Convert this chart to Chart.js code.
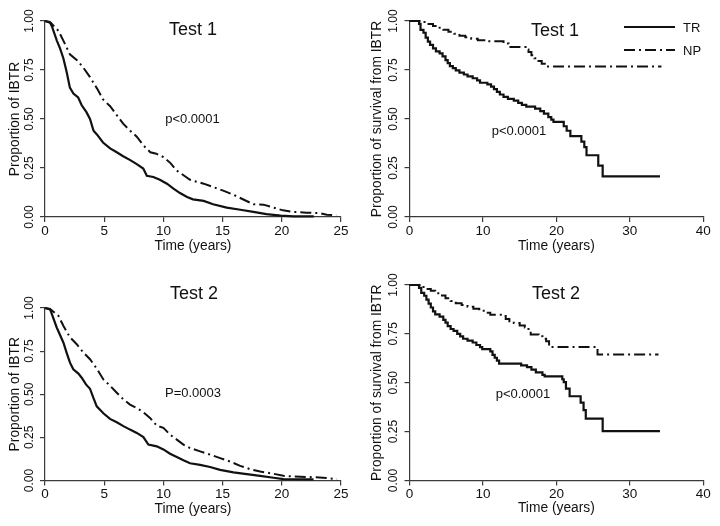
<!DOCTYPE html>
<html><head><meta charset="utf-8">
<script src="https://cdn.jsdelivr.net/npm/chart.js@4/dist/chart.umd.min.js"></script>
<style>
html,body{margin:0;padding:0;background:#fff;}
#wrap{position:relative;width:720px;height:526px;overflow:hidden;background:#fff;}
canvas{position:absolute;}
</style></head><body>
<div id="wrap">
<canvas id="c1" width="360" height="263" style="left:0;top:0"></canvas>
<canvas id="c2" width="360" height="263" style="left:360px;top:0"></canvas>
<canvas id="c3" width="360" height="263" style="left:0;top:263px"></canvas>
<canvas id="c4" width="360" height="263" style="left:360px;top:263px"></canvas>
</div>
<script>
// ---------- data ----------
const seriesLabels = ['TR', 'NP'];
const panelTitles = ['Test 1', 'Test 1', 'Test 2', 'Test 2'];
const pValues = ['p<0.0001', 'p<0.0001', 'P=0.0003', 'p<0.0001'];
const yTitles = ['Proportion of IBTR', 'Proportion of survival from IBTR', 'Proportion of IBTR', 'Proportion of survival from IBTR'];
const xTitle = 'Time (years)';
const xTicksLeft = [0, 5, 10, 15, 20, 25];
const xTicksRight = [0, 10, 20, 30, 40];
const yTicks = [0, 0.25, 0.5, 0.75, 1];

// Panel 1 (top-left): proportion of IBTR
const p1TrTime = [0,0.4,0.6,1.0,1.27,1.55,1.83,2.1,2.4,2.8,3.1,3.5,3.8,4.1,4.4,4.9,5.5,6.06,6.6,7.2,7.75,8.3,8.6,9.15,9.7,10.3,10.85,11.4,12.0,12.5,13.4,14.2,15.35,16.5,17.6,18.7,19.9,21,22.7];
const p1TrVal  = [1,0.995,0.97,0.90,0.86,0.81,0.74,0.66,0.63,0.61,0.57,0.535,0.50,0.44,0.42,0.38,0.35,0.33,0.31,0.29,0.27,0.247,0.21,0.204,0.19,0.17,0.145,0.122,0.102,0.09,0.082,0.065,0.048,0.037,0.026,0.015,0.007,0.003,0.003];
const p1NpTime = [0,0.5,1.13,1.55,2.1,2.7,3.2,3.8,4.4,4.9,5.5,6.06,6.6,7.2,7.75,8.3,8.9,9.4,10,10.6,11.1,11.7,12.25,12.8,13.4,14.2,15.1,15.9,16.8,17.6,18.45,19.3,20.1,21,22.1,23.2,23.8,24.6];
const p1NpVal  = [1,0.99,0.95,0.90,0.83,0.80,0.765,0.714,0.655,0.60,0.565,0.52,0.476,0.44,0.41,0.366,0.33,0.323,0.306,0.275,0.238,0.213,0.19,0.18,0.17,0.153,0.133,0.114,0.088,0.065,0.063,0.048,0.034,0.026,0.022,0.02,0.012,0.008];

// Panel 2 (top-right): survival from IBTR
const p2TrTime = [0,1.3,1.5,1.9,2.2,2.5,2.8,3.2,3.6,4.1,4.5,4.9,5.2,5.5,5.9,6.3,6.8,7.4,7.9,8.6,9.2,9.6,10.6,11.1,11.5,11.9,12.3,12.8,13.4,14.2,14.8,15.3,15.9,17.1,17.8,18.3,18.9,19.3,19.6,21.0,21.4,21.9,23.4,23.8,24.1,25.7,26.3,34.1];
const p2TrVal  = [1,0.985,0.955,0.94,0.915,0.895,0.878,0.86,0.845,0.835,0.82,0.80,0.785,0.77,0.76,0.748,0.737,0.727,0.717,0.708,0.697,0.685,0.677,0.665,0.652,0.638,0.625,0.613,0.603,0.594,0.582,0.572,0.563,0.553,0.54,0.527,0.51,0.497,0.485,0.463,0.44,0.413,0.385,0.357,0.315,0.262,0.207,0.207];
const p2NpTime = [0,1.5,2.4,3.2,3.9,4.6,5.3,6.1,6.8,7.6,8.4,9.3,10.5,12.8,13.5,15.8,16.2,16.6,17.0,17.4,18.0,18.7,34.3];
const p2NpVal  = [1,0.995,0.985,0.975,0.965,0.955,0.945,0.935,0.925,0.917,0.91,0.902,0.897,0.885,0.867,0.855,0.842,0.825,0.81,0.796,0.782,0.768,0.768];

// Panel 3 (bottom-left): proportion of IBTR
const p3TrTime = [0,0.42,0.99,1.55,1.83,2.11,2.39,2.82,3.1,3.46,3.8,4.08,4.37,4.93,5.49,6.06,6.62,7.18,7.75,8.31,8.73,9.44,10.0,10.56,11.13,11.69,12.25,13.1,13.94,14.79,15.92,17.04,18.17,19.3,20.14,22.68];
const p3TrVal  = [1,0.995,0.887,0.80,0.74,0.683,0.645,0.62,0.596,0.557,0.532,0.48,0.43,0.39,0.357,0.338,0.315,0.295,0.276,0.252,0.208,0.198,0.18,0.155,0.136,0.117,0.10,0.091,0.078,0.062,0.047,0.037,0.027,0.016,0.008,0.006];
const p3NpTime = [0,0.5,1.13,1.55,2.11,2.68,3.24,3.8,4.37,4.93,5.49,6.06,6.62,7.18,7.75,8.31,8.87,9.44,10.0,10.56,11.13,11.69,12.25,13.1,13.94,14.79,15.63,16.48,17.32,18.17,19.3,20.14,20.99,22.68,23.8,24.65];
const p3NpVal  = [1,0.99,0.955,0.897,0.83,0.79,0.742,0.703,0.649,0.586,0.55,0.509,0.47,0.44,0.42,0.396,0.363,0.318,0.305,0.266,0.237,0.208,0.188,0.169,0.15,0.13,0.11,0.085,0.066,0.052,0.039,0.027,0.023,0.019,0.014,0.008];

// Panel 4 (bottom-right): survival from IBTR
const p4TrTime = [0,1.3,1.6,2.0,2.3,2.6,2.9,3.2,3.5,4.1,4.6,4.9,5.2,5.6,6.0,6.5,6.9,7.3,7.9,8.6,9.1,9.6,9.9,11.0,11.3,11.6,11.9,12.2,15.2,16.0,16.6,17.2,18.1,18.4,20.8,21.0,21.3,21.8,23.3,23.7,24.0,26.3,34.1];
const p4TrVal  = [1,0.985,0.96,0.945,0.925,0.905,0.885,0.865,0.85,0.838,0.822,0.808,0.79,0.775,0.765,0.75,0.737,0.725,0.715,0.706,0.693,0.682,0.672,0.66,0.643,0.628,0.613,0.598,0.589,0.58,0.567,0.553,0.54,0.533,0.518,0.503,0.47,0.431,0.398,0.36,0.317,0.253,0.253];
const p4NpTime = [0,1.7,2.3,2.9,3.5,4.2,4.9,5.6,6.3,7.1,7.9,8.7,9.5,10.3,11.0,12.6,13.1,13.6,14.2,15.0,15.7,16.2,16.5,17.6,18.1,18.6,19.0,19.3,25.6,33.9];
const p4NpVal  = [1,0.99,0.98,0.97,0.958,0.946,0.932,0.918,0.907,0.898,0.889,0.878,0.868,0.858,0.848,0.842,0.826,0.815,0.805,0.793,0.782,0.762,0.747,0.738,0.725,0.712,0.696,0.683,0.645,0.645];

// ---------- drawing ----------
const FONT = '"Liberation Sans", Arial, Helvetica, sans-serif';
const AXIS = '#3a3a3a';
const INK = '#111';

const pts = (t, v) => t.map((x, i) => ({x: x, y: v[i]}));

const annot = {
  id: 'annot',
  afterDatasetsDraw(chart, args, o) {
    const ctx = chart.ctx;
    ctx.save();
    ctx.fillStyle = INK;
    ctx.textBaseline = 'middle';
    (o.texts || []).forEach(t => {
      ctx.font = t.size + 'px ' + FONT;
      ctx.textAlign = 'center';
      ctx.fillText(t.text, t.x, t.y);
    });
    if (o.legend) {
      const L = o.legend;
      chart.data.datasets.forEach((ds, i) => {
        const y = L.y + i * L.gap;
        ctx.strokeStyle = ds.borderColor;
        ctx.lineWidth = ds.borderWidth;
        ctx.setLineDash(ds.borderDash || []);
        ctx.beginPath(); ctx.moveTo(L.x1, y); ctx.lineTo(L.x2, y); ctx.stroke();
        ctx.setLineDash([]);
        ctx.font = L.size + 'px ' + FONT;
        ctx.textAlign = 'left';
        ctx.fillText(ds.label, L.tx, y + 1);
      });
    }
    ctx.restore();
  }
};

function panel(id, cfg) {
  const W = 360, H = 263, b = cfg.box;
  return new Chart(document.getElementById(id), {
    type: 'line',
    data: {
      datasets: [
        {label: seriesLabels[0], data: cfg.tr, borderColor: '#111', borderWidth: 2.2, stepped: cfg.stepped, pointRadius: 0, tension: 0, fill: false, clip: false},
        {label: seriesLabels[1], data: cfg.np, borderColor: '#111', borderWidth: 2, borderDash: [11, 4, 2, 4], stepped: cfg.stepped, pointRadius: 0, tension: 0, fill: false, clip: false}
      ]
    },
    options: {
      responsive: false, animation: false, devicePixelRatio: 1,
      layout: {padding: {left: 0, top: b.top, right: W - b.right, bottom: 0}},
      plugins: {legend: {display: false}, tooltip: {enabled: false}, title: {display: false},
        annot: {texts: cfg.texts, legend: cfg.legend}},
      scales: {
        x: {
          type: 'linear', min: 0, max: cfg.xTicks[cfg.xTicks.length - 1],
          afterBuildTicks: s => { s.ticks = cfg.xTicks.map(v => ({value: v})); },
          afterFit: s => { s.height = H - b.bottom; },
          grid: {drawOnChartArea: false, drawTicks: true, tickLength: 5, color: AXIS, lineWidth: 1.2},
          border: {display: true, color: AXIS, width: 1.2},
          ticks: {color: INK, font: {family: FONT, size: 13.5}, padding: 1, maxRotation: 0, autoSkip: false},
          title: {display: true, text: xTitle, color: INK, font: {family: FONT, size: 13.8}, padding: {top: 0, bottom: cfg.xtPad}}
        },
        y: {
          type: 'linear', min: 0, max: 1,
          afterBuildTicks: s => { s.ticks = yTicks.map(v => ({value: v})); },
          afterFit: s => { s.width = b.left; },
          grid: {drawOnChartArea: false, drawTicks: true, tickLength: 5, color: AXIS, lineWidth: 1.2},
          border: {display: true, color: AXIS, width: 1.2},
          ticks: {color: INK, font: {family: FONT, size: 12}, padding: cfg.ytkPad, minRotation: 90, maxRotation: 90, crossAlign: 'center', autoSkip: false,
            callback: v => v.toFixed(2)},
          title: {display: true, text: cfg.yTitle, color: INK, font: {family: FONT, size: 13.8}, padding: {top: cfg.ytPad, bottom: 0}}
        }
      }
    },
    plugins: [annot]
  });
}

panel('c1', {
  box: {left: 45, top: 21, right: 341, bottom: 217}, xTicks: xTicksLeft, stepped: false,
  tr: pts(p1TrTime, p1TrVal), np: pts(p1NpTime, p1NpVal), yTitle: yTitles[0],
  xtPad: 8.9, ytPad: 6.9, ytkPad: -1.5,
  texts: [{text: panelTitles[0], x: 193, y: 30, size: 18}, {text: pValues[0], x: 192.5, y: 119, size: 13}]
});
panel('c2', {
  box: {left: 49.5, top: 21, right: 343.3, bottom: 217}, xTicks: xTicksRight, stepped: true,
  tr: pts(p2TrTime, p2TrVal), np: pts(p2NpTime, p2NpVal), yTitle: yTitles[1],
  xtPad: 8.9, ytPad: 9.4, ytkPad: -0.5,
  texts: [{text: panelTitles[1], x: 195, y: 31.5, size: 18}, {text: pValues[1], x: 159, y: 131.5, size: 13}],
  legend: {x1: 264, x2: 315, tx: 323, y: 27, gap: 23, size: 13}
});
panel('c3', {
  box: {left: 45, top: 45, right: 341, bottom: 217.5}, xTicks: xTicksLeft, stepped: false,
  tr: pts(p3TrTime, p3TrVal), np: pts(p3NpTime, p3NpVal), yTitle: yTitles[2],
  xtPad: 8.2, ytPad: 6.9, ytkPad: -1.5,
  texts: [{text: panelTitles[2], x: 194, y: 31.5, size: 18}, {text: pValues[2], x: 193, y: 130, size: 13}]
});
panel('c4', {
  box: {left: 49.5, top: 22, right: 343.3, bottom: 217.5}, xTicks: xTicksRight, stepped: true,
  tr: pts(p4TrTime, p4TrVal), np: pts(p4NpTime, p4NpVal), yTitle: yTitles[3],
  xtPad: 9.5, ytPad: 9.4, ytkPad: -0.5,
  texts: [{text: panelTitles[3], x: 196, y: 31.5, size: 18}, {text: pValues[3], x: 163, y: 131.5, size: 13}]
});
</script>
</body></html>
